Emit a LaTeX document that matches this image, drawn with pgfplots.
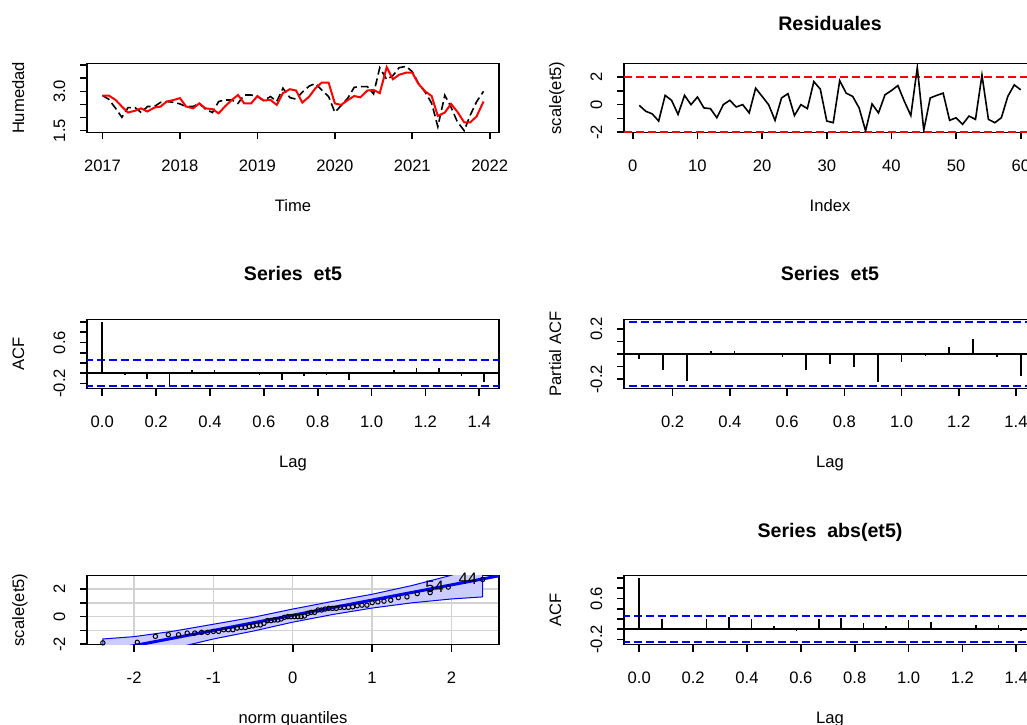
\documentclass[border=0pt]{standalone}
\usepackage{fontspec}
\setmainfont{Liberation Sans}
\usepackage{pgfplots}
\usepackage{pgfplotstable}
\pgfplotsset{compat=1.18}

\newcommand\tk{\fontsize{8.3}{10}\selectfont}
\newcommand\ttl{\fontsize{9.8}{11.8}\selectfont\bfseries}

\definecolor{bandfill}{HTML}{CCCCFF}

% monthly humidity: observed and fitted
\pgfplotstableread{
t obs fit
2017.00 2.84 2.84
2017.08 2.70 2.84
2017.17 2.35 2.67
2017.25 2.01 2.42
2017.33 2.38 2.19
2017.42 2.38 2.26
2017.50 2.19 2.35
2017.58 2.42 2.23
2017.67 2.42 2.38
2017.75 2.58 2.42
2017.83 2.61 2.61
2017.92 2.58 2.67
2018.00 2.52 2.74
2018.08 2.42 2.42
2018.17 2.42 2.35
2018.25 2.54 2.54
2018.33 2.32 2.35
2018.42 2.19 2.32
2018.50 2.61 2.16
2018.58 2.67 2.42
2018.67 2.67 2.67
2018.75 2.54 2.86
2018.83 2.86 2.54
2018.92 2.86 2.54
2019.00 2.80 2.82
2019.08 2.65 2.65
2019.17 2.80 2.67
2019.25 2.61 2.48
2019.33 3.12 2.93
2019.42 2.76 3.08
2019.50 2.70 3.03
2019.58 2.97 2.57
2019.67 3.20 2.80
2019.75 3.30 3.12
2019.83 3.05 3.33
2019.92 2.80 3.33
2020.00 2.20 2.54
2020.08 2.45 2.48
2020.17 2.75 2.67
2020.25 3.15 2.82
2020.33 3.18 2.77
2020.42 3.18 3.03
2020.50 2.90 3.05
2020.58 3.90 2.93
2020.67 3.45 3.92
2020.75 3.60 3.46
2020.83 3.90 3.63
2020.92 3.95 3.71
2021.00 3.75 3.71
2021.08 3.30 3.28
2021.17 2.95 2.99
2021.25 2.55 2.82
2021.33 1.65 2.06
2021.42 2.85 2.19
2021.50 2.40 2.52
2021.58 1.85 2.23
2021.67 1.50 1.82
2021.75 2.10 1.82
2021.83 2.60 2.04
2021.92 3.00 2.61
}\hum

% standardised residuals
\pgfplotstableread{
i r
1 -0.05
2 -0.48
3 -0.67
4 -1.19
5 0.67
6 0.31
7 -0.71
8 0.67
9 0.00
10 0.55
11 -0.24
12 -0.29
13 -0.95
14 0.00
15 0.31
16 -0.17
17 0.00
18 -0.60
19 1.19
20 0.60
21 0.00
22 -1.14
23 0.48
24 0.79
25 -0.79
26 0.00
27 -0.29
28 1.67
29 1.12
30 -1.19
31 -1.31
32 1.74
33 0.83
34 0.60
35 -0.24
36 -1.90
37 0.05
38 -0.60
39 0.71
40 1.02
41 1.38
42 0.24
43 -0.79
44 2.69
45 -1.86
46 0.48
47 0.67
48 0.83
49 -1.14
50 -0.95
51 -1.43
52 -0.83
53 -1.07
54 2.14
55 -1.07
56 -1.31
57 -0.95
58 0.60
59 1.43
60 1.07
}\res

% normal quantiles against sorted residuals
\pgfplotstableread{
z r
-2.394 -1.90
-1.960 -1.86
-1.732 -1.43
-1.569 -1.31
-1.440 -1.31
-1.331 -1.19
-1.235 -1.19
-1.150 -1.14
-1.073 -1.14
-1.001 -1.07
-0.935 -1.07
-0.872 -0.95
-0.812 -0.95
-0.755 -0.95
-0.701 -0.83
-0.649 -0.79
-0.598 -0.79
-0.549 -0.71
-0.501 -0.67
-0.454 -0.60
-0.408 -0.60
-0.363 -0.48
-0.319 -0.29
-0.275 -0.29
-0.232 -0.24
-0.189 -0.24
-0.147 -0.17
-0.105 -0.05
-0.063 0.00
-0.021 0.00
0.021 0.00
0.063 0.00
0.105 0.00
0.147 0.05
0.189 0.24
0.232 0.31
0.275 0.31
0.319 0.48
0.363 0.48
0.408 0.55
0.454 0.60
0.501 0.60
0.549 0.60
0.598 0.67
0.649 0.67
0.701 0.67
0.755 0.71
0.812 0.79
0.872 0.83
0.935 0.83
1.001 1.02
1.073 1.07
1.150 1.12
1.235 1.19
1.331 1.38
1.440 1.43
1.569 1.67
1.732 1.74
1.960 2.14
2.394 2.69
}\qq

\pgfplotstableread{
lag acf
0.0000 1.00
0.0833 -0.04
0.1667 -0.12
0.2500 -0.23
0.3333 0.06
0.4167 0.06
0.5000 0.02
0.5833 -0.04
0.6667 -0.13
0.7500 -0.05
0.8333 -0.04
0.9167 -0.13
1.0000 -0.01
1.0833 0.06
1.1667 0.11
1.2500 0.10
1.3333 -0.06
1.4167 -0.18
}\acfres

\pgfplotstableread{
lag pacf
0.0833 -0.040
0.1667 -0.125
0.2500 -0.215
0.3333 0.023
0.4167 0.026
0.5000 -0.005
0.5833 -0.020
0.6667 -0.125
0.7500 -0.078
0.8333 -0.104
0.9167 -0.223
1.0000 -0.060
1.0833 -0.015
1.1667 0.057
1.2500 0.122
1.3333 -0.026
1.4167 -0.177
}\pacfres

\pgfplotstableread{
lag acf
0.0000 1.00
0.0833 0.19
0.1667 0.00
0.2500 0.19
0.3333 0.23
0.4167 0.19
0.5000 0.06
0.5833 -0.03
0.6667 0.19
0.7500 0.21
0.8333 0.13
0.9167 0.06
1.0000 0.17
1.0833 0.15
1.1667 0.00
1.2500 0.08
1.3333 0.08
1.4167 -0.03
}\acfabs

\pgfplotsset{
  rpanel/.style={
    scale only axis, width=206pt, height=34.5pt, anchor=south west,
    axis line style={line width=0.8pt},
    tick pos=left, tick align=outside, major tick length=3.5pt,
    every tick/.append style={black, line width=0.8pt},
    tick label style={font=\tk},
    xticklabel style={anchor=base, yshift=-15.9pt},
    yticklabel style={rotate=90, anchor=base, yshift=7.5pt},
    every axis x label/.style={at={(axis description cs:0.5,0)}, anchor=base, yshift=-39.4pt, font=\tk},
    every axis y label/.style={at={(axis description cs:0,0.5)}, rotate=90, anchor=base, yshift=31.4pt, font=\tk},
    every axis title/.style={at={(axis description cs:0.5,1)}, anchor=base, font=\ttl},
    clip mode=individual,
  },
  rdash/.style={dash pattern=on 4pt off 2pt},
  acfpanel/.style={rpanel,
    ymin=-0.30, ymax=1.05,
    ytick={-0.2,0,0.2,0.4,0.6,0.8,1.0}, yticklabels={-0.2,,,,0.6,,},
    xmin=-0.0567, xmax=1.4733,
    xtick={0,0.2,0.4,0.6,0.8,1.0,1.2,1.4},
    xticklabels={0.0,0.2,0.4,0.6,0.8,1.0,1.2,1.4},
    xlabel={Lag}, ylabel={ACF}},
}

\begin{document}
\begin{tikzpicture}
\useasboundingbox (0,0) rectangle (513.5pt,362pt);
\clip (0,0) rectangle (513.5pt,362pt);

% humidity series with fitted values
\begin{axis}[rpanel, at={(43.5pt,295.75pt)},
  xmin=2016.8, xmax=2022.12, ymin=1.43, ymax=4.06,
  xtick={2017,2018,2019,2020,2021,2022},
  xticklabels={2017,2018,2019,2020,2021,2022},
  ytick={1.5,2,2.5,3,3.5,4}, yticklabels={1.5,,,3.0,,},
  xlabel={Time}, ylabel={Humedad}]
\addplot[black, rdash, line width=0.8pt] table[x=t, y=obs] {\hum};
\addplot[red, line width=1pt] table[x=t, y=fit] {\hum};
\end{axis}

% residuals by index
\begin{axis}[rpanel, at={(312pt,295.75pt)},
  xmin=-1.36, xmax=62.36, ymin=-2.02, ymax=2.98,
  xtick={0,10,20,30,40,50,60}, xticklabels={0,10,20,30,40,50,60},
  ytick={-2,-1,0,1,2}, yticklabels={-2,,0,,2},
  xlabel={Index}, ylabel={scale(et5)},
  title={Residuales}, title style={yshift=16.3pt}]
\addplot[red, rdash, line width=0.8pt] coordinates {(-5,2) (70,2)};
\addplot[red, rdash, line width=0.8pt] coordinates {(-5,-2) (70,-2)};
\addplot[black, line width=0.8pt] table[x=i, y=r] {\res};
\end{axis}

% ACF of residuals
\begin{axis}[acfpanel, at={(43.5pt,167.75pt)},
  title={Series\ \ et5}, title style={yshift=19.3pt}]
\addplot[black, line width=0.8pt] coordinates {(-1,0) (2,0)};
\addplot[blue, rdash, line width=0.9pt] coordinates {(-1,0.253) (2,0.253)};
\addplot[blue, rdash, line width=0.9pt] coordinates {(-1,-0.253) (2,-0.253)};
\addplot[ycomb, black, line width=0.8pt] table[x=lag, y=acf] {\acfres};
\end{axis}

% partial ACF of residuals
\begin{axis}[rpanel, at={(312pt,167.75pt)},
  xmin=0.03, xmax=1.47, ymin=-0.2733, ymax=0.2733,
  xtick={0.2,0.4,0.6,0.8,1.0,1.2,1.4},
  xticklabels={0.2,0.4,0.6,0.8,1.0,1.2,1.4},
  ytick={-0.2,-0.1,0,0.1,0.2}, yticklabels={-0.2,,,,0.2},
  xlabel={Lag}, ylabel={Partial ACF},
  title={Series\ \ et5}, title style={yshift=19.3pt}]
\addplot[black, line width=0.8pt] coordinates {(-1,0) (2,0)};
\addplot[blue, rdash, line width=0.9pt] coordinates {(-1,0.253) (2,0.253)};
\addplot[blue, rdash, line width=0.9pt] coordinates {(-1,-0.253) (2,-0.253)};
\addplot[ycomb, black, line width=0.8pt] table[x=lag, y=pacf] {\pacfres};
\end{axis}

% normal QQ plot with envelope
\begin{axis}[rpanel, at={(43.5pt,39.75pt)},
  xmin=-2.594, xmax=2.60, ymin=-2.02, ymax=2.98,
  xtick={-2,-1,0,1,2}, xticklabels={-2,-1,0,1,2},
  ytick={-2,-1,0,1,2}, yticklabels={-2,,0,,2},
  grid=major, grid style={gray!35, line width=0.7pt},
  xlabel={norm quantiles}, ylabel={scale(et5)}]
\addplot[fill=bandfill, draw=blue, line width=0.5pt] coordinates {
  (-2.394,-1.62) (-2.0,-1.45) (-1.5,-1.05) (-1.0,-0.55) (-0.5,-0.05)
  (0,0.55) (0.5,1.10) (1.0,1.62) (1.5,2.25) (2.0,3.00) (2.394,3.75)
  (2.394,1.43) (2.0,1.28) (1.5,1.00) (1.0,0.62) (0.5,0.15) (0,-0.40)
  (-0.5,-1.05) (-1.0,-1.62) (-1.5,-2.30) (-2.0,-3.10) (-2.394,-3.90)} -- cycle;
\addplot[blue, line width=1.5pt] coordinates {(-2.7,-2.87) (2.7,3.07)};
\addplot[only marks, mark=o, mark size=1.1pt, black, mark options={line width=0.5pt}] table[x=z, y=r] {\qq};
\node[anchor=east, inner sep=0pt, font=\tk] at (axis cs:1.91,2.14) {54};
\node[anchor=east, inner sep=0pt, font=\tk] at (axis cs:2.33,2.74) {44};
\end{axis}

% ACF of absolute residuals
\begin{axis}[acfpanel, at={(312pt,39.75pt)},
  title={Series\ \ abs(et5)}, title style={yshift=18.8pt}]
\addplot[black, line width=0.8pt] coordinates {(-1,0) (2,0)};
\addplot[blue, rdash, line width=0.9pt] coordinates {(-1,0.253) (2,0.253)};
\addplot[blue, rdash, line width=0.9pt] coordinates {(-1,-0.253) (2,-0.253)};
\addplot[ycomb, black, line width=0.8pt] table[x=lag, y=acf] {\acfabs};
\end{axis}
\end{tikzpicture}
\end{document}
